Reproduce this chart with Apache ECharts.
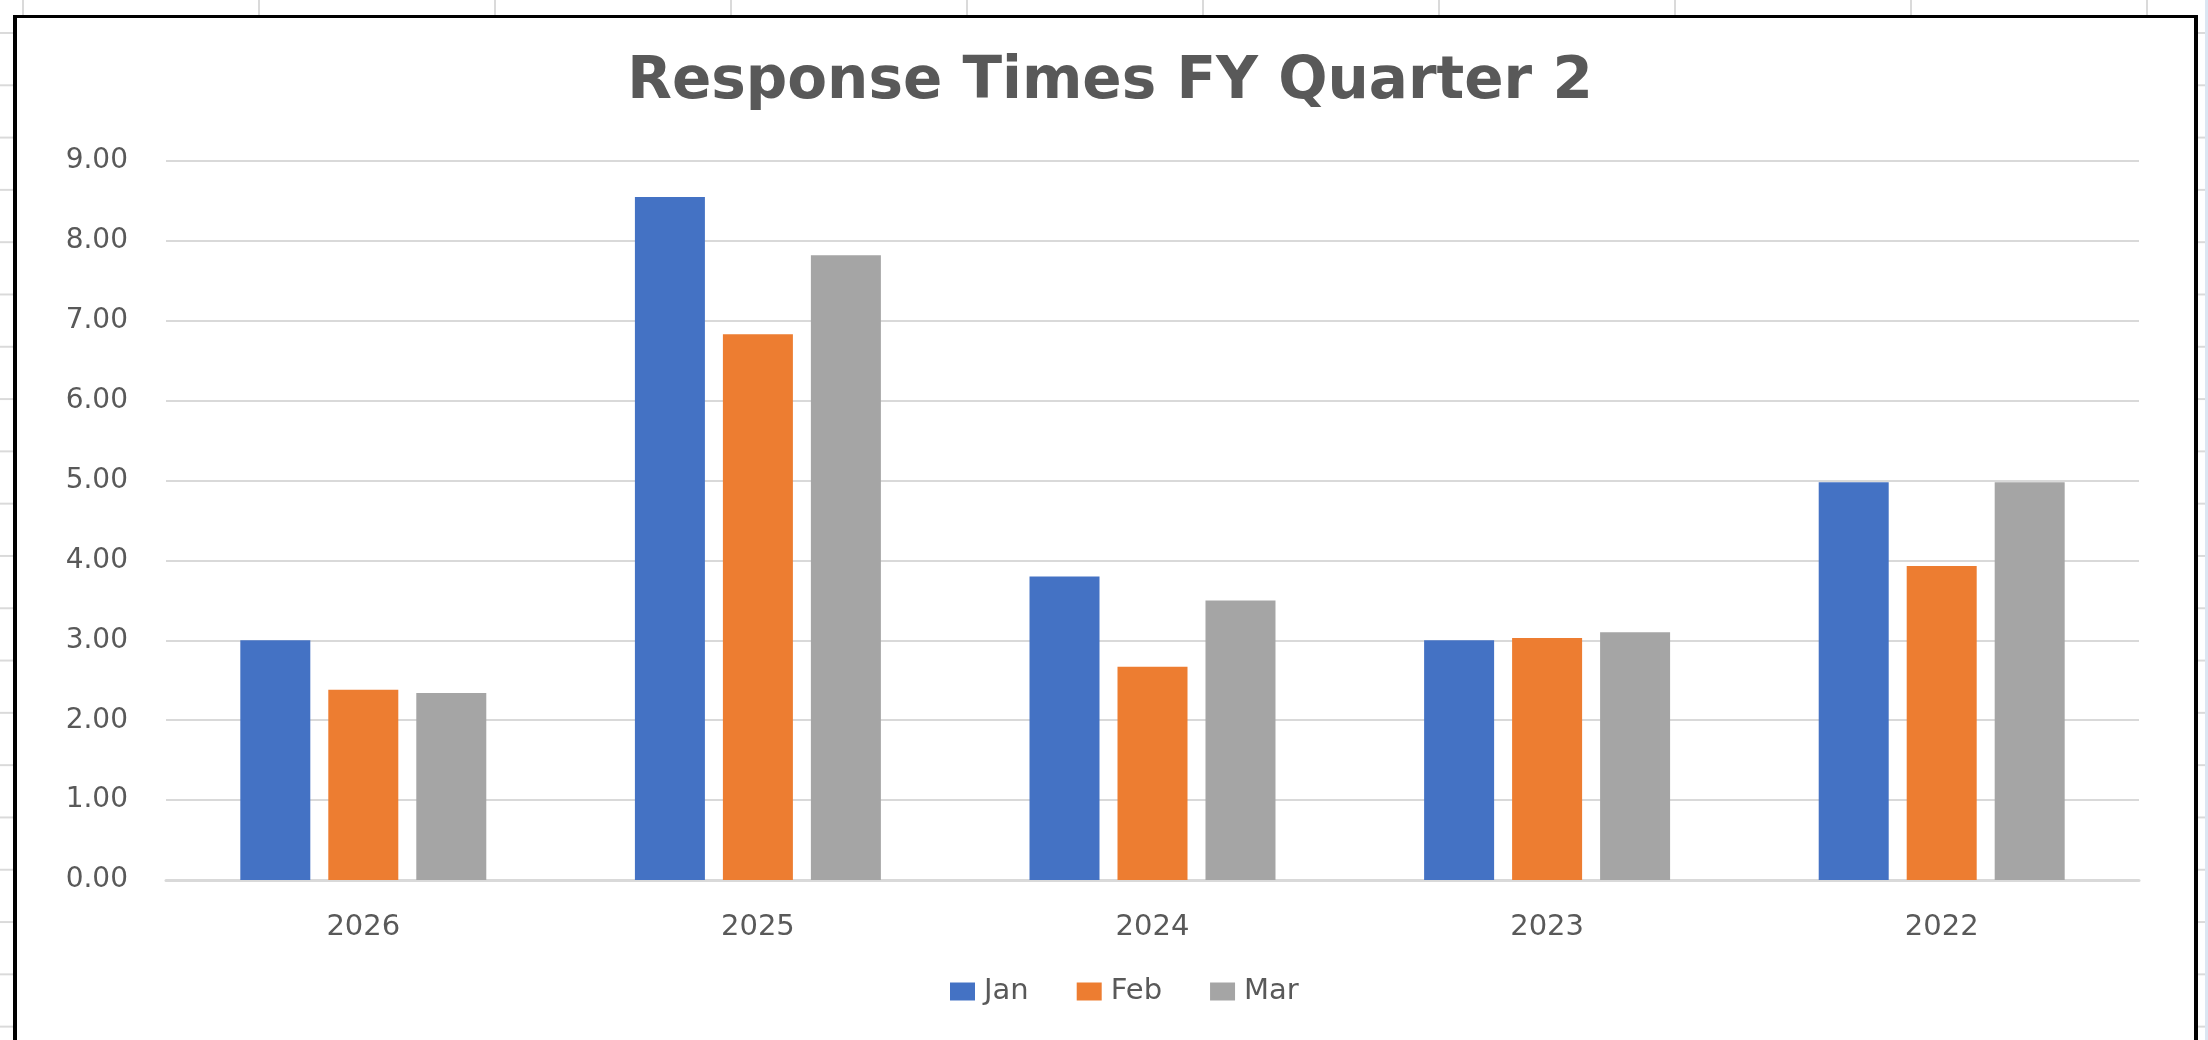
<!DOCTYPE html>
<html>
<head>
<meta charset="utf-8">
<title>Response Times FY Quarter 2</title>
<script src="https://cdn.jsdelivr.net/npm/echarts@6/dist/echarts.min.js"></script>
<style>
  html, body {
    margin: 0;
    padding: 0;
    width: 2208px;
    height: 1040px;
    overflow: hidden;
    background-color: #ffffff;
    /* spreadsheet cells behind the chart */
    background-image:
      linear-gradient(to right, #dadada 2px, transparent 2px),
      linear-gradient(to bottom, #dadada 2px, transparent 2px);
    background-size: 236px 52.3px;
    background-position: 22px 32px;
  }
  #frame {
    position: absolute;
    left: 13px;
    top: 15px;
    width: 2185px;
    height: 1100px;
    box-sizing: border-box;
    border: 4px solid #000;
    border-top-width: 3px;
    background: #fff;
  }
  #edge {
    position: absolute;
    left: 2205px;
    top: 0;
    width: 3px;
    height: 1040px;
    background: #dce6f2;
  }
  #bar-chart {
    position: absolute;
    left: 0;
    top: 0;
    width: 2208px;
    height: 1040px;
  }
</style>
</head>
<body>
<div id="edge"></div>
<div id="frame"></div>
<div id="bar-chart"></div>
<script>
// 数据
var years = ['2026', '2025', '2024', '2023', '2022'];
var janValues = [3.00, 8.55, 3.80, 3.00, 4.98];
var febValues = [2.38, 6.83, 2.67, 3.03, 3.93];
var marValues = [2.34, 7.82, 3.50, 3.10, 4.98];

var textColor = '#595959';
var font = 'DejaVu Sans';

// 初始化
var barChart = echarts.init(document.getElementById('bar-chart'));

var barChartOption = {
  animation: false,
  title: {
    text: 'Response Times FY Quarter 2',
    left: 1105,
    textAlign: 'center',
    top: 49,
    textStyle: {
      fontFamily: font,
      fontWeight: 'bold',
      fontSize: 58,
      color: textColor
    }
  },
  // 图例组件
  legend: {
    data: ['Jan', 'Feb', 'Mar'],
    left: 945,
    top: 972,
    icon: 'rect',
    itemWidth: 25,
    itemHeight: 18,
    itemGap: 48,
    textStyle: {
      fontFamily: font,
      fontSize: 29,
      color: textColor,
      padding: [0, 0, 0, 4]
    }
  },
  // 定义网格位置
  grid: {
    left: 166,
    right: 69,
    top: 161,
    bottom: 160
  },
  // X轴
  xAxis: {
    type: 'category',
    data: years,
    axisTick: { show: false },
    axisLine: {
      lineStyle: { color: '#d9d9d9', width: 3 }
    },
    axisLabel: {
      margin: 33,
      fontFamily: font,
      fontSize: 29,
      color: textColor
    }
  },
  // Y轴
  yAxis: {
    type: 'value',
    min: 0,
    max: 9,
    interval: 1,
    axisLine: { show: false },
    axisTick: { show: false },
    splitLine: {
      lineStyle: { color: '#d9d9d9', width: 2 }
    },
    axisLabel: {
      margin: 38,
      fontFamily: font,
      fontSize: 28,
      color: textColor,
      padding: [6, 0, 0, 0],
      formatter: function (v) { return v.toFixed(2); }
    }
  },
  // 数据
  series: [
    {
      type: 'bar',
      name: 'Jan',
      data: janValues,
      barWidth: 70,
      barGap: '25.7%',
      itemStyle: { color: '#4472c4' }
    },
    {
      type: 'bar',
      name: 'Feb',
      data: febValues,
      barWidth: 70,
      barGap: '25.7%',
      itemStyle: { color: '#ed7d31' }
    },
    {
      type: 'bar',
      name: 'Mar',
      data: marValues,
      barWidth: 70,
      barGap: '25.7%',
      itemStyle: { color: '#a5a5a5' }
    }
  ]
};

// 应用配置
barChart.setOption(barChartOption);
</script>
</body>
</html>
